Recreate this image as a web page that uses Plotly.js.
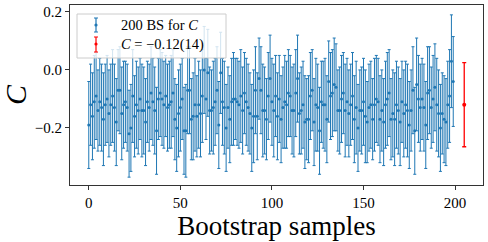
<!DOCTYPE html>
<html>
<head>
<meta charset="utf-8">
<script src="https://cdn.plot.ly/plotly-3.0.1.min.js"></script>
<style>html,body{margin:0;padding:0;background:#fff;}#chart{width:488px;height:242px;}</style>
</head>
<body>
<div id="chart"></div>
<script>
// Bootstrap sample central values
const bsValues = [
-0.19,-0.12,-0.16,-0.11,-0.09,-0.14,-0.11,-0.13,-0.17,-0.12,
-0.10,-0.15,-0.12,-0.09,-0.13,-0.18,-0.07,-0.07,-0.15,-0.12,
-0.11,-0.13,-0.22,-0.20,-0.09,-0.16,-0.12,-0.14,-0.10,-0.14,
-0.14,-0.18,-0.11,-0.13,-0.08,-0.11,-0.14,-0.21,-0.10,-0.08,
-0.10,-0.12,-0.09,-0.13,-0.12,-0.11,-0.08,-0.17,-0.20,-0.15,
-0.13,-0.10,-0.21,-0.21,-0.07,-0.07,-0.17,-0.16,-0.12,-0.16,
-0.12,-0.15,-0.09,0.00,-0.10,-0.01,-0.14,-0.14,-0.13,-0.11,
-0.07,-0.19,-0.01,-0.11,-0.13,-0.20,-0.13,-0.17,-0.11,-0.10,
-0.10,-0.11,-0.12,-0.09,-0.14,-0.08,-0.11,-0.13,-0.15,-0.20,
-0.16,-0.07,-0.16,-0.03,-0.07,-0.14,-0.14,-0.17,-0.09,-0.03,
-0.11,-0.14,-0.09,-0.16,-0.10,-0.17,-0.13,-0.11,-0.12,-0.08,
-0.09,-0.14,-0.14,-0.08,-0.03,-0.15,-0.14,-0.12,-0.18,-0.17,
-0.17,-0.09,-0.07,-0.18,-0.12,-0.13,-0.21,-0.11,-0.12,-0.12,
-0.17,-0.04,-0.09,-0.08,-0.05,-0.06,-0.14,-0.14,-0.10,-0.08,
-0.14,-0.11,-0.15,-0.12,-0.09,-0.17,-0.13,-0.20,-0.14,-0.14,
-0.11,-0.16,-0.18,-0.13,-0.12,-0.17,-0.12,-0.10,-0.11,-0.17,
-0.14,-0.18,-0.12,-0.10,-0.08,-0.17,-0.15,-0.17,-0.12,-0.14,
-0.18,-0.11,-0.15,-0.12,-0.14,-0.19,-0.14,-0.07,-0.21,-0.05,
-0.10,-0.13,-0.10,-0.13,-0.19,-0.08,-0.07,-0.13,-0.10,-0.06,
-0.12,-0.15,-0.20,-0.15,-0.17,-0.18,-0.12,-0.09,0.03,-0.04
];
// Bootstrap sample errors
const bsErrors = [
0.15,0.14,0.15,0.16,0.15,0.14,0.15,0.15,0.16,0.14,
0.15,0.15,0.14,0.16,0.15,0.15,0.14,0.15,0.16,0.15,
0.14,0.15,0.15,0.15,0.16,0.14,0.15,0.15,0.14,0.16,
0.15,0.15,0.14,0.15,0.16,0.15,0.15,0.15,0.14,0.15,
0.16,0.15,0.14,0.15,0.15,0.16,0.15,0.14,0.15,0.15,
0.15,0.14,0.15,0.16,0.15,0.15,0.14,0.15,0.16,0.14,
0.15,0.15,0.16,0.15,0.14,0.15,0.15,0.14,0.16,0.15,
0.15,0.15,0.14,0.15,0.16,0.15,0.14,0.15,0.15,0.16,
0.14,0.15,0.15,0.16,0.15,0.14,0.15,0.15,0.14,0.15,
0.16,0.15,0.15,0.14,0.15,0.16,0.15,0.14,0.15,0.15,
0.15,0.16,0.14,0.15,0.15,0.15,0.14,0.16,0.15,0.15,
0.14,0.15,0.16,0.15,0.15,0.14,0.15,0.15,0.16,0.14,
0.15,0.15,0.14,0.15,0.16,0.15,0.15,0.14,0.15,0.16,
0.15,0.14,0.15,0.15,0.16,0.15,0.14,0.15,0.15,0.14,
0.16,0.15,0.15,0.14,0.15,0.15,0.16,0.15,0.14,0.15,
0.15,0.16,0.14,0.15,0.15,0.14,0.16,0.15,0.15,0.15,
0.14,0.15,0.15,0.16,0.15,0.14,0.15,0.16,0.15,0.15,
0.15,0.14,0.15,0.15,0.16,0.15,0.14,0.15,0.15,0.16,
0.15,0.15,0.14,0.15,0.15,0.16,0.15,0.14,0.15,0.15,
0.16,0.15,0.15,0.14,0.15,0.15,0.15,0.16,0.16,0.155
];
const bsIndex = bsValues.map((v, i) => i);

// Final result
const finalX = [205];
const finalValue = [-0.12];
const finalError = [0.145];

const xTicks = [0, 50, 100, 150, 200];
const yTicks = [-0.2, 0.0, 0.2];
const yTickText = ['\u22120.2', '0.0', '0.2'];

const FONT = 'Liberation Serif, DejaVu Serif, serif';
const BLUE = '#1f77b4';

const traces = [
  {
    type: 'scatter', mode: 'markers', x: bsIndex, y: bsValues,
    marker: {color: BLUE, size: 3},
    error_y: {type: 'data', array: bsErrors, visible: true, color: BLUE, thickness: 1, width: 1.5},
    showlegend: false, hoverinfo: 'skip'
  },
  {
    type: 'scatter', mode: 'markers', x: finalX, y: finalValue,
    marker: {color: 'red', size: 4},
    error_y: {type: 'data', array: finalError, visible: true, color: 'red', thickness: 1.3, width: 2},
    showlegend: false, hoverinfo: 'skip'
  }
];

// Legend drawn in paper coordinates
const PW = 413, PH = 180;
function px(xp) { return (xp - 70) / PW; }
function py(yp) { return (185 - yp) / PH; }
function glyph(xc, y0, y1, ym, col) {
  return [
    {type: 'line', xref: 'paper', yref: 'paper', x0: px(xc), x1: px(xc), y0: py(y0), y1: py(y1), line: {color: col, width: 1.2}},
    {type: 'line', xref: 'paper', yref: 'paper', x0: px(xc - 2), x1: px(xc + 2), y0: py(y0), y1: py(y0), line: {color: col, width: 1}},
    {type: 'line', xref: 'paper', yref: 'paper', x0: px(xc - 2), x1: px(xc + 2), y0: py(y1), y1: py(y1), line: {color: col, width: 1}},
    {type: 'circle', xref: 'paper', yref: 'paper', x0: px(xc - 1.6), x1: px(xc + 1.6), y0: py(ym - 1.6), y1: py(ym + 1.6), fillcolor: col, line: {color: col, width: 0}}
  ];
}
const shapes = [
  {type: 'rect', xref: 'paper', yref: 'paper', x0: px(77), x1: px(226), y0: py(58), y1: py(14),
   fillcolor: 'rgba(255,255,255,0.8)', line: {color: '#cccccc', width: 1}}
].concat(glyph(96, 18, 32, 25, BLUE)).concat(glyph(96, 37, 52, 44, 'red'));

const annotations = [
  {xref: 'paper', yref: 'paper', x: px(119), y: py(25), xanchor: 'left', yanchor: 'middle', showarrow: false,
   text: '200 BS for <i>C</i>', font: {family: FONT, size: 14.5, color: '#000'}},
  {xref: 'paper', yref: 'paper', x: px(119), y: py(44), xanchor: 'left', yanchor: 'middle', showarrow: false,
   text: '<i>C</i> = \u22120.12(14)', font: {family: FONT, size: 14.5, color: '#000'}},
  // y-axis label
  {xref: 'paper', yref: 'paper', x: px(15), y: py(95), xanchor: 'center', yanchor: 'middle', showarrow: false,
   textangle: -90, text: '<i>C</i>', font: {family: FONT, size: 30, color: '#000'}}
];

const layout = {
  width: 488, height: 242,
  margin: {l: 70, r: 5, t: 5, b: 57, pad: 0},
  paper_bgcolor: '#fff', plot_bgcolor: '#fff',
  font: {family: FONT, color: '#000'},
  xaxis: {
    range: [-10.25, 215.25], tickvals: xTicks, ticks: 'outside', ticklen: 4, tickcolor: '#333',
    showline: true, mirror: true, linecolor: '#333', linewidth: 1, showgrid: false, zeroline: false,
    tickfont: {family: FONT, size: 15},
    title: {text: 'Bootstrap samples', font: {family: FONT, size: 27}, standoff: 2}
  },
  yaxis: {
    range: [-0.397, 0.224], tickvals: yTicks, ticktext: yTickText, ticks: 'outside', ticklen: 4, tickcolor: '#333',
    showline: true, mirror: true, linecolor: '#333', linewidth: 1, showgrid: false, zeroline: false,
    tickfont: {family: FONT, size: 15}
  },
  shapes: shapes,
  annotations: annotations
};

Plotly.newPlot('chart', traces, layout, {staticPlot: true, displayModeBar: false});
</script>
</body>
</html>
